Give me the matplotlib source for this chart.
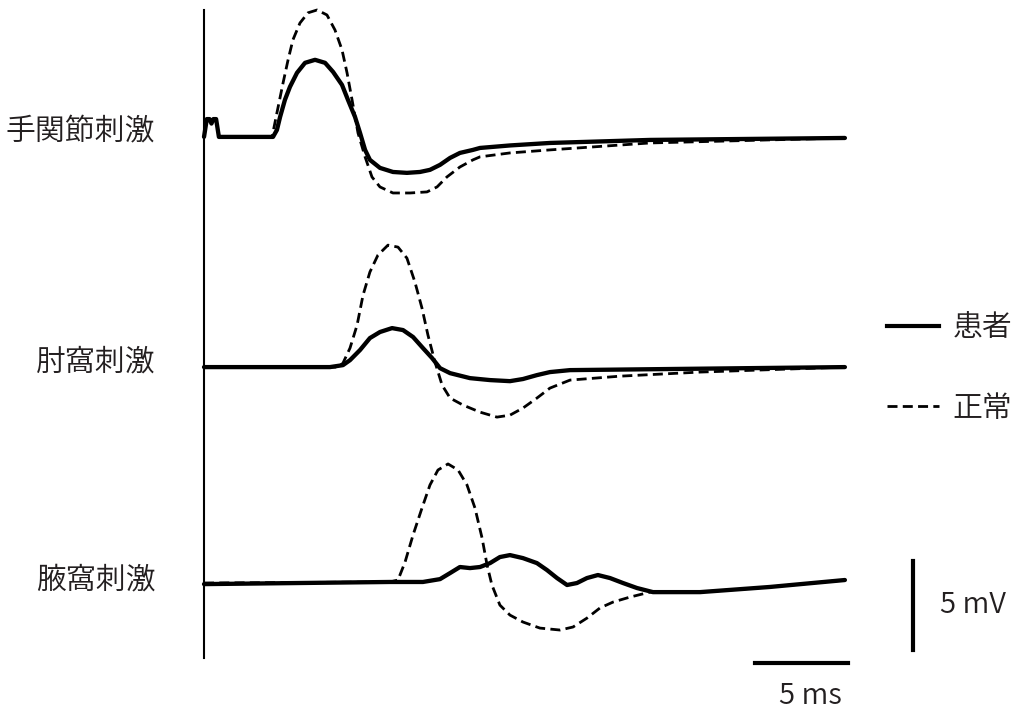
import numpy as np
import matplotlib
matplotlib.use("Agg")
import matplotlib.pyplot as plt

plt.rcParams['font.family'] = ['Noto Sans CJK JP', 'DejaVu Sans']

# time (ms) / amplitude (mV), relative to each baseline
wrist_t_pat = [0, 0.15, 0.3, 0.4, 0.5, 0.65, 0.8, 3.71, 3.92, 4.09, 4.35, 4.62, 5.0, 5.43, 5.97,
               6.51, 6.94, 7.42, 7.74, 8.12, 8.39, 8.66, 8.92, 9.46, 10.16, 10.91, 11.61, 12.15,
               12.69, 13.23, 13.76, 14.46, 14.84, 16.45, 18.6, 23.98, 34.46]
wrist_v_pat = [0, 1.0, 1.0, 0.75, 1.0, 1.0, 0, 0, 0.39, 1.12, 2.08, 2.81, 3.60, 4.16, 4.33,
               4.16, 3.65, 2.92, 2.08, 1.12, 0.22, -0.73, -1.29, -1.74, -1.97, -2.02, -1.97, -1.85,
               -1.57, -1.18, -0.90, -0.73, -0.62, -0.48, -0.34, -0.17, -0.06]
wrist_t_norm = [0.8, 3.66, 3.92, 4.25, 4.52, 4.78, 5.16, 5.59, 6.08, 6.61, 7.04, 7.42, 7.69, 7.96,
                8.28, 8.66, 9.03, 9.46, 10.16, 11.08, 11.99, 12.53, 13.06, 13.76, 14.46, 14.84,
                16.45, 18.6, 23.98, 34.46]
wrist_v_norm = [0, 0, 1.35, 3.03, 4.33, 5.45, 6.40, 6.97, 7.13, 6.85, 6.01, 4.89, 3.60, 2.08,
                0.22, -1.12, -2.25, -2.81, -3.15, -3.15, -3.09, -2.81, -2.25, -1.69, -1.29, -1.12,
                -0.90, -0.73, -0.34, -0.06]

elbow_t_pat = [0, 6.77, 7.47, 7.85, 8.39, 8.92, 9.46, 10.11, 10.70, 11.24, 11.77, 12.26, 12.69,
               13.23, 14.30, 15.38, 16.45, 17.15, 17.90, 18.60, 19.68, 34.46]
elbow_v_pat = [0, 0, 0.11, 0.39, 0.96, 1.63, 1.97, 2.19, 2.08, 1.69, 1.07, 0.51, -0.06,
               -0.34, -0.62, -0.73, -0.79, -0.67, -0.45, -0.28, -0.17, 0]
elbow_t_norm = [0, 7.20, 7.47, 7.85, 8.23, 8.55, 8.92, 9.35, 9.89, 10.43, 10.91, 11.34, 11.72,
                12.04, 12.42, 12.80, 13.23, 13.92, 14.84, 15.75, 16.45, 17.15, 17.90, 18.60,
                19.68, 22.37, 26.67, 34.46]
elbow_v_norm = [0, 0, 0.22, 1.07, 2.36, 4.04, 5.34, 6.29, 6.85, 6.74, 6.12, 4.78, 3.31,
                1.80, 0.28, -1.01, -1.74, -2.13, -2.53, -2.81, -2.70, -2.30, -1.74, -1.18,
                -0.73, -0.51, -0.28, 0]

axilla_t_pat = [0, 10.0, 11.77, 12.69, 13.23, 13.76, 14.30, 14.84, 15.38, 15.91, 16.45, 17.15,
                17.90, 18.44, 18.98, 19.52, 20.05, 20.59, 21.18, 21.83, 22.53, 23.28, 24.14,
                25.05, 26.67, 30.43, 34.46]
axilla_v_pat = [-0.06, 0.06, 0.06, 0.22, 0.56, 0.90, 0.84, 0.90, 1.12, 1.46, 1.57, 1.40,
                1.12, 0.73, 0.28, -0.11, 0, 0.28, 0.45, 0.28, 0, -0.28, -0.51,
                -0.51, -0.51, -0.22, 0.17]
axilla_t_norm = [0, 10.0, 10.43, 10.81, 11.24, 11.72, 12.15, 12.58, 13.12, 13.66, 14.14, 14.57,
                 14.95, 15.22, 15.48, 15.91, 16.45, 17.15, 18.06, 19.14, 19.84, 20.59, 21.29,
                 21.99, 22.90, 23.98, 25.05, 26.67, 30.43, 34.46]
axilla_v_norm = [0, 0.06, 0.17, 1.18, 2.70, 4.21, 5.51, 6.35, 6.69, 6.35, 5.51, 4.21,
                 2.53, 1.01, -0.11, -1.24, -1.80, -2.19, -2.53, -2.64, -2.47, -1.97, -1.40,
                 -1.07, -0.79, -0.51, -0.51, -0.51, -0.22, 0.17]

labels = ['手関節刺激', '肘窩刺激', '腋窩刺激']
legend_labels = ['患者', '正常']

offsets = [25.06, 12.13, 0.0]   # vertical stacking of the three traces (mV)
label_y = [25.34, 12.42, 0.17]

traces = [(wrist_t_pat, wrist_v_pat, wrist_t_norm, wrist_v_norm),
          (elbow_t_pat, elbow_v_pat, elbow_t_norm, elbow_v_norm),
          (axilla_t_pat, axilla_v_pat, axilla_t_norm, axilla_v_norm)]

txt_col = '#231f20'
dash = (3.6, 1.9)
fw = 350

fig = plt.figure(figsize=(10.24, 7.13), dpi=100)
ax = fig.add_axes([0, 0, 1, 1])
ax.set_xlim(-10.97, 44.09)
ax.set_ylim(-7.30, 32.75)
ax.axis('off')

for (tp, vp, tn, vn), off, lab, ly in zip(traces, offsets, labels, label_y):
    ax.plot(tn, np.array(vn) + off, color='black', lw=2.0, dashes=dash)
    ax.plot(tp, np.array(vp) + off, color='black', lw=3.1,
            solid_joinstyle='round', solid_capstyle='round')
    ax.text(-2.63, ly, lab, ha='right', va='center', fontsize=21.5,
            color=txt_col, fontweight=fw)

# stimulus axis
ax.plot([0, 0], [32.19, -4.21], color='black', lw=1.5)

# scale bars
ax.plot([29.62, 34.62], [-4.49, -4.49], color='black', lw=3)
ax.text(32.58, -6.35, '5 ms', ha='center', va='center', fontsize=21,
        color=txt_col, fontweight=fw)
ax.plot([38.12, 38.12], [1.24, -3.76], color='black', lw=3)
ax.text(39.55, -1.24, '5 mV', ha='left', va='center', fontsize=21,
        color=txt_col, fontweight=fw)

# legend
h1, = ax.plot([], [], color='black', lw=3)
h2, = ax.plot([], [], color='black', lw=2.0, dashes=dash)
leg = ax.legend([h1, h2], legend_labels, loc='upper left', bbox_to_anchor=(0.866, 0.562),
                frameon=False, fontsize=21.5, handlelength=1.75, handletextpad=0.45,
                labelspacing=1.65, borderpad=0, borderaxespad=0, labelcolor=txt_col)
for t in leg.get_texts():
    t.set_fontweight(fw)

fig.savefig('out.png', dpi=100)
